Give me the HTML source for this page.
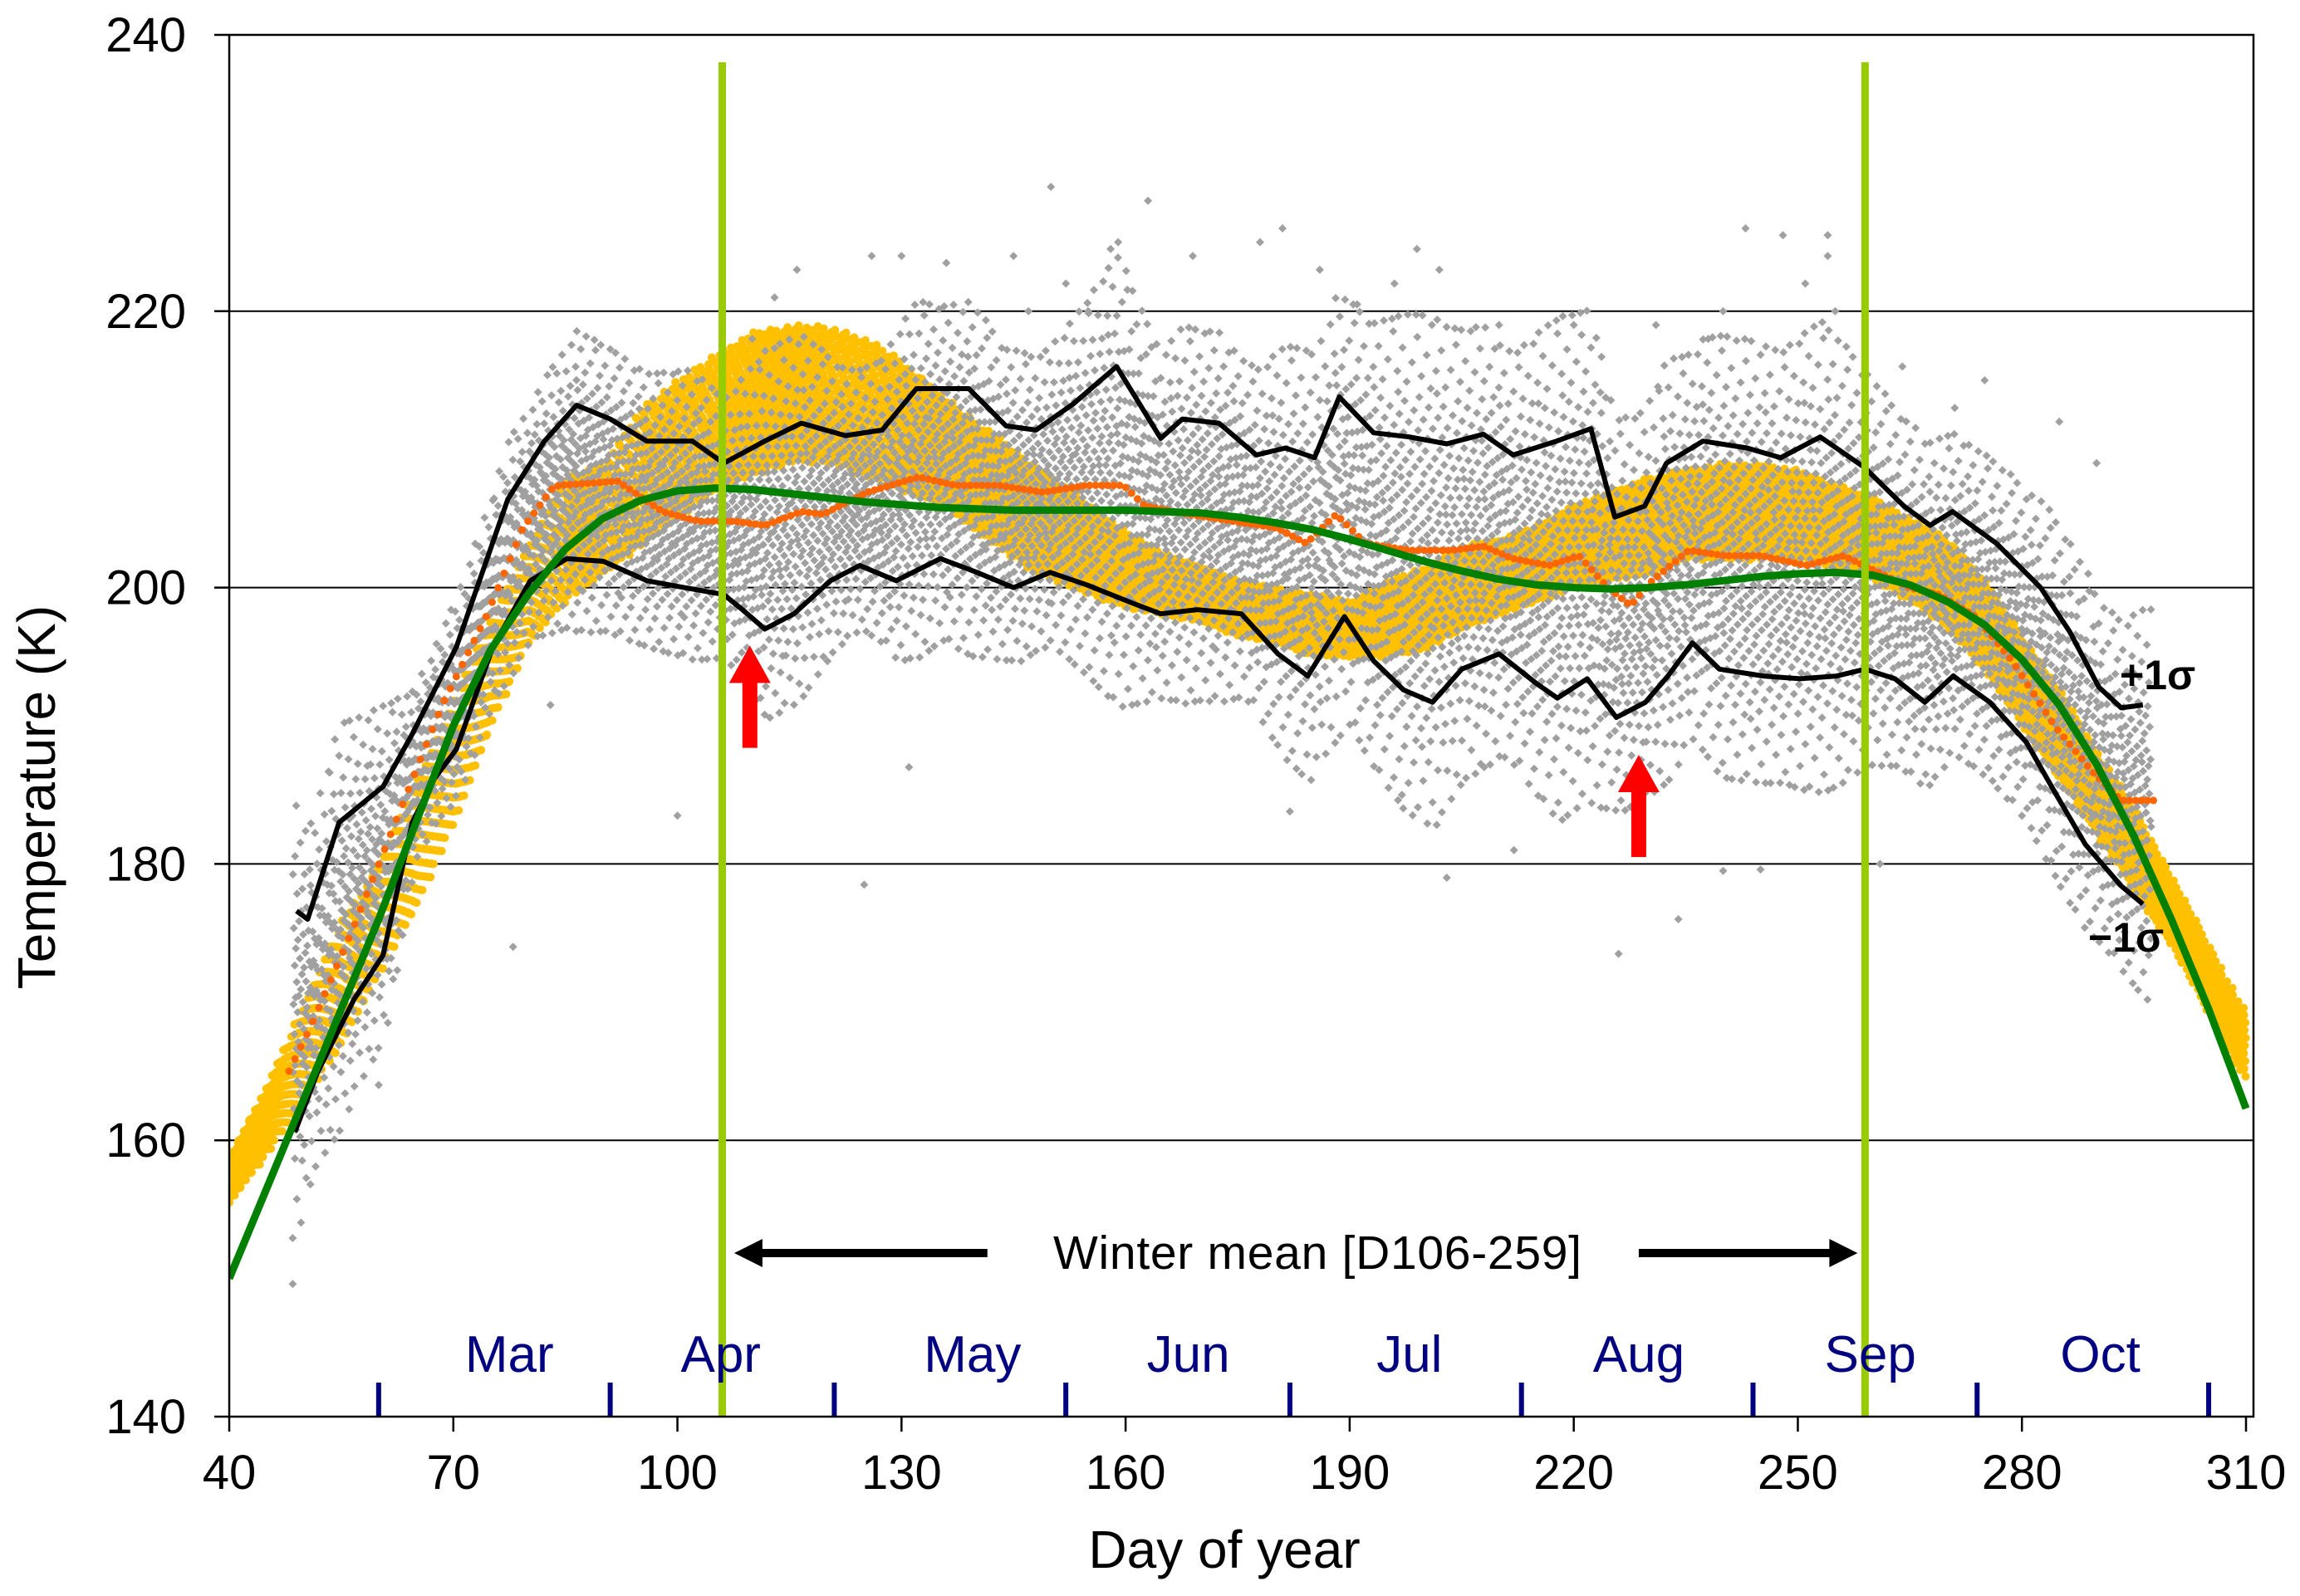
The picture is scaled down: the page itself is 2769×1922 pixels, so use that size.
<!DOCTYPE html>
<html><head><meta charset="utf-8"><style>
html,body{margin:0;padding:0;background:#fff;}
svg{display:block;font-family:"Liberation Sans",Arial,sans-serif;}
</style></head><body>
<svg id="chart" width="2769" height="1922" viewBox="0 0 2769 1922" xmlns="http://www.w3.org/2000/svg">
<defs><clipPath id="plotclip"><rect x="276" y="42" width="2437" height="1664"/></clipPath></defs>
<rect x="0" y="0" width="2769" height="1922" fill="#fff"/>
<g id="grid"></g>
<g id="data" clip-path="url(#plotclip)"></g>
<g id="axes"></g>
<g id="annot"></g>
</svg>
<script>
// ---------- data ----------
const yTicks=[140,160,180,200,220,240];
const xTicks=[40,70,100,130,160,190,220,250,280,310];
const monthNames=["Mar","Apr","May","Jun","Jul","Aug","Sep","Oct"];
const monthLabelDays=[77.5,105.8,139.5,168.4,198,228.7,259.7,290.5];
const monthStartDays=[60,91,121,152,182,213,244,274,305];
const winterBounds=[106,259];

const greenDays=[40,45,50,55,60,65,70,75,80,85,90,95,100,105,110,115,120,125,130,135,140,145,150,155,160,165,170,175,180,185,190,195,200,205,210,215,220,225,230,235,240,245,250,255,260,265,270,275,280,285,290,295,300,305,310];
const greenVals=[150,156.5,163,169.5,176,183,190,195.5,199.5,202.8,205,206.3,207,207.2,207.1,206.8,206.5,206.2,206,205.8,205.7,205.6,205.6,205.6,205.6,205.5,205.4,205.1,204.7,204.2,203.5,202.7,201.9,201.2,200.6,200.2,200,199.9,200,200.2,200.5,200.8,201,201.1,200.9,200.2,199,197.3,194.8,191.5,187.2,182,176,169.5,162.3];

const upperDays=[49,50.5,54.7,60.6,64.5,70.4,77.3,82.2,86.5,91,95.9,102,106.2,111.7,116.6,122.5,127.4,132,139,144,148,153,158.8,164.7,167.6,172.5,177.5,181.4,185.3,188.6,193.2,198,203,207.9,211.9,217.7,222.3,225.5,229.5,232.4,237.3,243.2,247.7,253,258.9,264.2,267.7,270.7,276.6,282.5,286.4,290.3,293.3,296.2];
const upperVals=[176.6,176,183,185.6,189.4,195.7,206.4,210.6,213.2,212.2,210.6,210.6,209,210.6,211.9,211,211.4,214.4,214.4,211.7,211.4,213.3,216,210.8,212.2,211.9,209.6,210.1,209.4,213.8,211.2,210.9,210.4,211.1,209.6,210.6,211.5,205.1,205.9,209,210.6,210.1,209.4,210.9,208.7,205.9,204.5,205.5,203.2,200,196.8,192.8,191.3,191.5];

const lowerDays=[48.8,51.8,56.7,60.6,64.5,67.5,70.4,75.3,80.3,85.2,90.1,95.9,100.9,106.2,108.7,111.7,115.6,120.5,124.4,129.3,135.2,140.1,145,149.9,154.8,160.8,164.7,169.6,175.5,180.4,184.4,189.3,193.2,197.2,201.1,205,210,214.9,217.8,221.8,225.7,229.6,232.6,235.9,239.5,245.4,250.3,255.2,259,263,267,270.8,275.7,280.6,284.5,288.5,293.3,296.2];
const lowerVals=[160.6,164.9,170.2,173.4,183,186.2,188.3,195.7,200.5,202.1,201.9,200.5,200,199.5,198.4,197,198.1,200.5,201.6,200.5,202.1,201.1,200,201.1,200.2,198.9,198.1,198.4,198.1,195.2,193.6,197.9,194.7,192.6,191.7,194.1,195.2,193.1,192,193.4,190.6,191.7,193.6,196,194.1,193.6,193.4,193.6,194.1,193.4,191.7,193.6,191.7,188.8,185.1,181.4,178.4,177.1];

const orangeDays=[48,50.8,56.7,62.6,68.5,74.4,79.3,83.3,84.2,92,98,102.8,107.7,111.7,116.6,119.5,125.4,132.3,137.2,143,148.9,154.8,159.7,162.6,168.5,174.4,180.3,184.2,188.2,192.1,198,203.9,207.9,211.8,216.7,220.7,224.6,227.6,230.5,235.4,240.3,245.2,251.1,256.1,260,265,268.9,273.8,278.7,284.5,289.4,293.3,298.2];
const orangeVals=[165,168.1,175.5,183.5,191.5,197.9,204.3,207.2,207.4,207.7,205.5,204.8,204.8,204.5,205.5,205.3,206.9,208,207.4,207.4,206.9,207.4,207.4,205.9,205.3,204.8,204.3,203.2,205.3,203.2,202.7,202.7,203,202.1,201.6,202.3,200,198.7,200.5,202.7,202.3,202.3,201.6,202.3,201.3,200,199.5,197.9,194.7,189.9,186.7,184.6,184.6];

const yellowDays=[40,45,50,55,60,65,70,75,80,85,90,95,100,105,110,115,120,125,130,135,140,145,150,155,160,165,170,175,180,185,190,195,200,205,210,215,220,225,230,235,240,245,250,255,260,265,270,275,280,285,290,295,300,305,310];
const yellowLow=[155.5,159,163,167,172,177,183,190,196,199,201,203,205,207,208,209,209,208,207,206,204,202,200.5,199.5,198.5,198,197.5,196.5,196,195,195,195,195.5,197,198,199,200,200.5,201,202,202,202,202,201.5,200.5,199,197,194,190,186,182,178,174,169,164];
const yellowHigh=[159,164,170,176,180,186,192,198,203,208,209,213,215,217,218.5,219,219,218,216.5,214,212,210,208,206,204,202.5,201.5,200.5,200,199.5,199,200.5,201.5,203,203.5,204.5,206,207,208,208.5,209,209,208.5,207.5,206.5,205,203.5,200.5,196.5,192.5,188,184,179,174,169];

const outlierDays=[48.5,110,113,116,126,130,136,145,147,152,155,158,159,163,150,169,178,181,186,191,196,199,202,210,220,231,238,243,248,251,254,254,255,240,125,100,83,131,182,203,212,226,234,240,245,261,197,208,78,60,278,285,275,271,264,290];
const outlierVals=[149.6,218,221,223,224,224,223.5,224,220,222,220,224.5,225,228,229,224,225,226,223,220.5,222,224.5,223,219,219,219,218,226,225.5,222,224,225.5,220,220,178.5,183.5,191.5,187,183.8,179,181,173.5,176,179.5,179.6,180,185,187,174,164,193,212,215,213,216,209];

// ---------- scales ----------
const X=d=>276+(d-40)*(2704-276)/270;
const Y=t=>1706-(t-140)*16.64;
const NS="http://www.w3.org/2000/svg";
function mk(tag,attrs,parent){const e=document.createElementNS(NS,tag);for(const k in attrs)e.setAttribute(k,attrs[k]);parent.appendChild(e);return e;}
function interp(ds,vs,d){if(d<=ds[0])return vs[0];for(let i=1;i<ds.length;i++){if(d<=ds[i]){const f=(d-ds[i-1])/(ds[i]-ds[i-1]);return vs[i-1]+f*(vs[i]-vs[i-1]);}}return vs[vs.length-1];}
function invNorm(p){const a=[-39.696830,220.946098,-275.928510,138.357751,-30.664798,2.506628],b=[-54.476098,161.585836,-155.698979,66.801311,-13.280681];const q=p-0.5,r=q*q;return (((((a[0]*r+a[1])*r+a[2])*r+a[3])*r+a[4])*r+a[5])*q/(((((b[0]*r+b[1])*r+b[2])*r+b[3])*r+b[4])*r+1);}

const grid=document.getElementById('grid'),data=document.getElementById('data'),axes=document.getElementById('axes'),annot=document.getElementById('annot');

// gridlines
yTicks.forEach(t=>{if(t===140)return;
 const l=mk('line',{x1:276,x2:2713,y1:Y(t),y2:Y(t),stroke:'#000','stroke-width':2},grid);
 
 
});

// yellow scatter
let yp='';
for(let d=40,j=0;d<=310;d+=0.3,j++){
 const lo=interp(yellowDays,yellowLow,d),hi=interp(yellowDays,yellowHigh,d);
 const n=9;
 for(let k=0;k<n;k++){const f=((k+((j*0.618)%1))/n);const t=lo+(hi-lo)*f;const x=X(d+((k*0.4142+j*0.2)%1)*0.3),y=Y(t);
  yp+=`M${(x-5).toFixed(1)},${y.toFixed(1)}a5,5 0 1,0 10,0a5,5 0 1,0 -10,0`;}
}
const yel=mk('path',{d:yp,fill:'#FFC000'},data);



// gray scatter
let gp='';
function diamond(x,y){return `M${x.toFixed(1)},${(y-5).toFixed(1)}l5,5l-5,5l-5,-5z`;}
for(let d=48.5,j=0;d<=297;d+=0.4,j++){
 const lo=interp(lowerDays,lowerVals,d),hi=interp(upperDays,upperVals,d);
 const mid=(lo+hi)/2,half=(hi-lo)/2;const n=12;
 for(let k=0;k<n;k++){const p=(k+((j*0.618+k*0.29)%1))/n;const q=invNorm(Math.min(0.975,Math.max(0.025,p)));
  gp+=diamond(X(d+((k*0.7071+j*0.3819)%1)*0.4),Y(mid+half*q));}
}
outlierDays.forEach((d,i)=>{gp+=diamond(X(d),Y(outlierVals[i]));});
const gray=mk('path',{d:gp,fill:'#A0A0A0'},data);



// orange dots
let op='';
for(let d=orangeDays[0];d<=orangeDays[orangeDays.length-1];d+=0.8){const x=X(d),y=Y(interp(orangeDays,orangeVals,d));
 op+=`M${(x-4.5).toFixed(1)},${y.toFixed(1)}a4.5,4.5 0 1,0 9,0a4.5,4.5 0 1,0 -9,0`;}
const org=mk('path',{d:op,fill:'#FF6600'},data);



// lines
function linePath(ds,vs){return ds.map((d,i)=>(i?'L':'M')+X(d).toFixed(1)+','+Y(vs[i]).toFixed(1)).join('');}
const up=mk('path',{d:linePath(upperDays,upperVals),fill:'none',stroke:'#000','stroke-width':6,'stroke-linejoin':'round'},data);


const lw=mk('path',{d:linePath(lowerDays,lowerVals),fill:'none',stroke:'#000','stroke-width':6,'stroke-linejoin':'round'},data);


const gr=mk('path',{d:linePath(greenDays,greenVals),fill:'none',stroke:'#008000','stroke-width':9,'stroke-linejoin':'round'},data);



// winter bounds
winterBounds.forEach((d,i)=>{const l=mk('line',{x1:X(d),x2:X(d),y1:75,y2:1706,stroke:'#99CC00','stroke-width':9},data);
 
 });

// month ticks and labels
monthStartDays.forEach(d=>{const l=mk('rect',{x:X(d)-3,y:1665,width:6,height:41,fill:'#000080'},axes);
 
 });
monthNames.forEach((m,i)=>{const t=mk('text',{x:X(monthLabelDays[i]),y:1652,'font-size':62,fill:'#000080','text-anchor':'middle'},axes);t.textContent=m;
 
 });

// frame
const fr=mk('path',{d:'M276,42H2713V1706H276Z',fill:'none',stroke:'#000','stroke-width':2.5},axes);


yTicks.forEach(t=>{mk('line',{x1:258,x2:276,y1:Y(t),y2:Y(t),stroke:'#000','stroke-width':2.5},axes);
 const tx=mk('text',{x:224,y:Y(t)+20,'font-size':58,'text-anchor':'end',fill:'#000'},axes);tx.textContent=t;
 
 });
xTicks.forEach(d=>{mk('line',{x1:X(d),x2:X(d),y1:1706,y2:1724,stroke:'#000','stroke-width':2.5},axes);
 const tx=mk('text',{x:X(d),y:1793,'font-size':58,'text-anchor':'middle',fill:'#000'},axes);tx.textContent=d;
 
 });
const yt=mk('text',{x:0,y:0,'font-size':64,'text-anchor':'middle',transform:'translate(66,960) rotate(-90)'},axes);yt.textContent='Temperature (K)';


const xt=mk('text',{x:1474,y:1888,'font-size':64,'text-anchor':'middle'},axes);xt.textContent='Day of year';



// annotations
function redArrow(d,tipT,baseT,name){const x=X(d),yt=Y(tipT),yb=Y(baseT);
 const p=mk('path',{d:`M${x-9},${yb}V${yt+45}H${x-25}L${x},${yt}L${x+25},${yt+45}H${x+9}V${yb}Z`,fill:'#FF0000'},annot);
 
 }
redArrow(109.7,195.8,188.4,'red-arrow-apr');
redArrow(228.7,187.9,180.5,'red-arrow-aug');
function blkArrow(x1,x2,y,name){const dir=x2>x1?1:-1;
 const p=mk('path',{d:`M${x1},${y-5}H${x2-dir*34}V${y-17}L${x2},${y}L${x2-dir*34},${y+17}V${y+5}H${x1}Z`,fill:'#000'},annot);
 
 }
blkArrow(X(141.5),X(107.6),1509,'winter-arrow-left');
blkArrow(X(228.7),X(258),1509,'winter-arrow-right');
const wt=mk('text',{x:1586,y:1528,'font-size':57,'text-anchor':'middle','textLength':636},annot);wt.textContent='Winter mean [D106-259]';


const s1=mk('text',{x:2552,y:830,'font-size':50,'font-weight':'bold'},annot);s1.textContent='+1σ';


const s2=mk('text',{x:2514,y:1146,'font-size':50,'font-weight':'bold'},annot);s2.textContent='−1σ';


</script>
</body></html>
